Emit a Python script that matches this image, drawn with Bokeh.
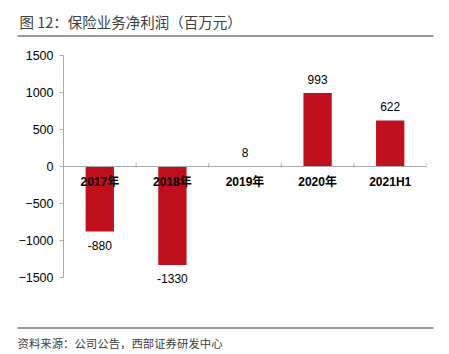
from bokeh.plotting import figure
from bokeh.models import Range1d, ColumnDataSource, FixedTicker, Span, Column
from bokeh.core.properties import value
from bokeh.embed import file_html
from bokeh.resources import INLINE

categories = ["2017年", "2018年", "2019年", "2020年", "2021H1"]
values = [-880, -1330, 8, 993, 622]
y_ticks = [-1500, -1000, -500, 0, 500, 1000, 1500]
title_text = "图 12：保险业务净利润（百万元）"
source_text = "资料来源：公司公告，西部证券研发中心"

W = 449
FONT = "'Liberation Sans', 'Noto Sans CJK SC', sans-serif"
CJK = "'Noto Sans CJK SC', sans-serif"
RED = "#C0101E"
AXC = "#AAAAAA"

# ---------- header strip (title + rule) ----------
TH = 40
top = figure(width=W, height=TH, output_backend="svg", toolbar_location=None,
             x_range=Range1d(0, W), y_range=Range1d(TH, 0), title=None,
             min_border_left=0, min_border_right=0, min_border_top=0, min_border_bottom=0)
top.axis.visible = False
top.grid.visible = False
top.outline_line_color = None
top.text(x=[19], y=[21], text=[title_text], text_font=value(CJK), text_font_size="14.5px",
         text_color="#404040", text_baseline="middle", text_align="left")
top.segment(x0=[17], x1=[433], y0=[35.5], y1=[35.5], line_color="#333333", line_width=1)

# ---------- main chart ----------
MH = 276          # canvas rows 40 .. 316
frame_top_px = 45  # canvas row of frame top
ax_top_px, ax_bot_px = 55, 277
upp = 3000 / (ax_bot_px - ax_top_px)   # data units per pixel
y_hi = 1500 + (ax_top_px - frame_top_px) * upp
y_lo = -1500 - ((TH + MH) - ax_bot_px) * upp

p = figure(width=W, height=MH, output_backend="svg", toolbar_location=None, title=None,
           x_range=Range1d(0, len(categories)), y_range=Range1d(y_lo, y_hi),
           min_border_left=63, min_border_right=23,
           min_border_top=frame_top_px - TH, min_border_bottom=0)
p.outline_line_color = None
p.xgrid.visible = False
p.ygrid.visible = False
p.xaxis.visible = False

yax = p.yaxis[0]
yax.bounds = (-1500, 1500)
yax.ticker = FixedTicker(ticks=y_ticks)
yax.axis_line_color = AXC
yax.major_tick_line_color = AXC
yax.major_tick_in = 0
yax.major_tick_out = 4
yax.minor_tick_line_color = None
yax.major_label_text_font = FONT
yax.major_label_text_font_size = "12.5px"
yax.major_label_text_color = "#000000"
yax.major_label_standoff = 6

xs = [i + 0.5 for i in range(len(categories))]
src = ColumnDataSource(dict(x=xs, top=values, cat=categories))

p.vbar(x="x", top="top", bottom=0, width=0.39, source=src, fill_color=RED, line_color=None)

# zero line with category boundary ticks
p.add_layout(Span(location=0, dimension="width", line_color=AXC, line_width=1))
bounds = list(range(len(categories) + 1))
p.segment(x0=bounds, x1=bounds, y0=[-15] * len(bounds), y1=[45] * len(bounds),
          line_color=AXC, line_width=1)

# category labels just below the zero line
p.text(x="x", y=0, text="cat", source=src, text_align="center", text_baseline="middle",
       y_offset=15, text_font=value(FONT), text_font_style="bold", text_font_size="12px",
       text_color="#000000")

pos = [v >= 0 for v in values]
src_pos = ColumnDataSource(dict(x=[x for x, q in zip(xs, pos) if q],
                                y=[v for v, q in zip(values, pos) if q],
                                t=[str(v) for v, q in zip(values, pos) if q]))
src_neg = ColumnDataSource(dict(x=[x for x, q in zip(xs, pos) if not q],
                                y=[v for v, q in zip(values, pos) if not q],
                                t=[str(v) for v, q in zip(values, pos) if not q]))
p.text(x="x", y="y", text="t", source=src_pos, text_align="center", text_baseline="bottom",
       y_offset=-9, text_font=value(FONT), text_font_size="12px", text_color="#000000")
p.text(x="x", y="y", text="t", source=src_neg, text_align="center", text_baseline="top",
       y_offset=9, text_font=value(FONT), text_font_size="12px", text_color="#000000")

# ---------- footer strip (rule + source) ----------
BH = 354 - TH - MH
bot = figure(width=W, height=BH, output_backend="svg", toolbar_location=None,
             x_range=Range1d(0, W), y_range=Range1d(BH, 0), title=None,
             min_border_left=0, min_border_right=0, min_border_top=0, min_border_bottom=0)
bot.axis.visible = False
bot.grid.visible = False
bot.outline_line_color = None
y0 = TH + MH
bot.segment(x0=[17], x1=[433], y0=[327.5 - y0], y1=[327.5 - y0], line_color="#333333", line_width=1)
bot.text(x=[17], y=[342 - y0], text=[source_text], text_font=value(CJK), text_font_size="11.4px",
         text_color="#404040", text_baseline="middle", text_align="left")

layout = Column(children=[Column(children=[top]), p, Column(children=[bot])], spacing=0)

with open("out.html", "w") as f:
    f.write(file_html(layout, INLINE))
